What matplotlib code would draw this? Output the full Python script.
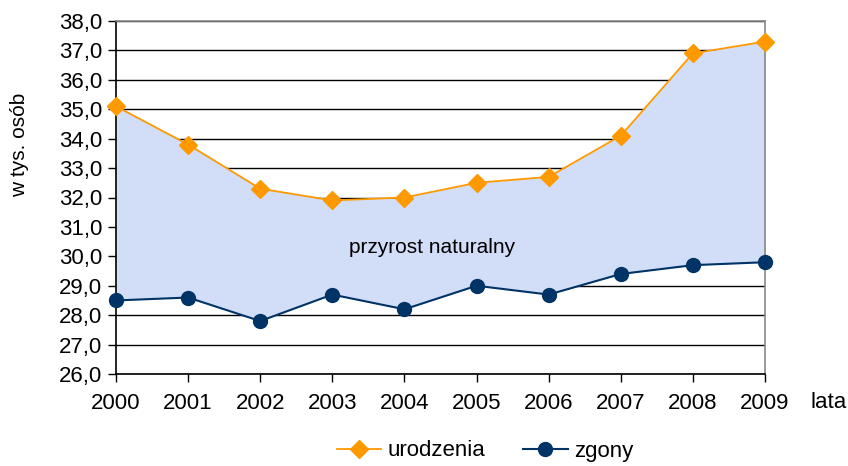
import matplotlib.pyplot as plt
from matplotlib.ticker import FuncFormatter, MultipleLocator

plt.rcParams["font.family"] = ["Liberation Sans", "DejaVu Sans"]

lata = [2000, 2001, 2002, 2003, 2004, 2005, 2006, 2007, 2008, 2009]
urodzenia = [35.1, 33.8, 32.3, 31.9, 32.0, 32.5, 32.7, 34.1, 36.9, 37.3]
zgony = [28.5, 28.6, 27.8, 28.7, 28.2, 29.0, 28.7, 29.4, 29.7, 29.8]


def main():
    fig = plt.figure(figsize=(8.48, 4.66), dpi=100)
    ax = fig.add_axes([116 / 848, 1 - 374 / 466, (765 - 116) / 848, (374 - 21) / 466])

    # siatka pozioma
    ax.yaxis.grid(True, color="black", linewidth=1.0, zorder=0)
    ax.set_axisbelow(True)

    ax.fill_between(lata, zgony, urodzenia, color="#d2ddf7", zorder=2, linewidth=0)
    ax.plot(lata, urodzenia, color="#FF9900", marker="D", markersize=9,
            linewidth=1.3, label="urodzenia", zorder=4, clip_on=False)
    ax.plot(lata, zgony, color="#003366", marker="o", markersize=10,
            linewidth=1.5, label="zgony", zorder=4, clip_on=False)

    ax.text(2004.38, 30.3, "przyrost naturalny", fontsize=15, ha="center",
            va="center", zorder=5)

    ax.set_xlim(2000, 2009)
    ax.set_ylim(26, 38)
    ax.set_xticks(lata)
    ax.yaxis.set_major_locator(MultipleLocator(1))
    ax.yaxis.set_major_formatter(FuncFormatter(lambda v, p: f"{v:.1f}".replace(".", ",")))
    ax.tick_params(axis="both", labelsize=16, direction="out", length=6, width=1)
    ax.tick_params(axis="x", pad=8)
    ax.tick_params(axis="y", pad=4)

    ax.spines["left"].set_color("black")
    ax.spines["bottom"].set_color("black")
    ax.spines["top"].set_color("#888888")
    ax.spines["right"].set_color("#888888")
    for s in ax.spines.values():
        s.set_linewidth(1.2)

    fig.text(20 / 848, 1 - 145 / 466, "w tys. osób", fontsize=15, rotation=90,
             ha="center", va="center")
    fig.text(829 / 848, 1 - 403 / 466, "lata", fontsize=16, ha="center", va="center")

    fig.legend(loc="center", bbox_to_anchor=(0.572, 1 - 451 / 466), ncol=2,
               frameon=False, fontsize=16, handlelength=2.0, handletextpad=0.3,
               columnspacing=1.7, borderpad=0.1)

    fig.savefig("out.png", dpi=100)


if __name__ == "__main__":
    main()
